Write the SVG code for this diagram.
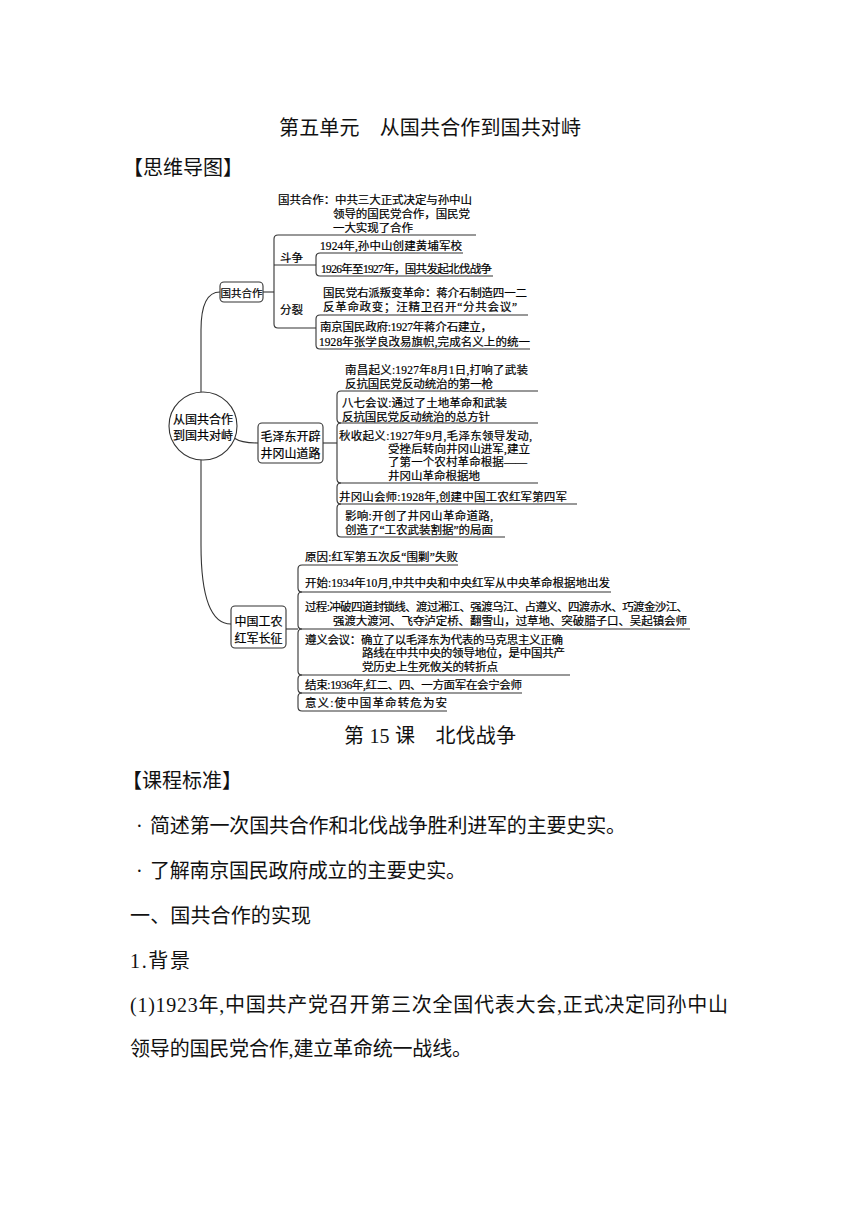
<svg xmlns="http://www.w3.org/2000/svg" width="860" height="1216" viewBox="0 0 860 1216">
<style>
.t{font-family:"Liberation Serif","Noto Sans CJK SC",serif;fill:#111;font-size:20px;dominant-baseline:central}
.m{font-family:"Liberation Serif","Noto Sans CJK SC",serif;font-size:11.5px;fill:#000;stroke:#000;stroke-width:0.2;dominant-baseline:central}
.bx{font-family:"Noto Sans CJK SC",sans-serif;font-size:12px;fill:#000;stroke:#000;stroke-width:0.2;dominant-baseline:central;text-anchor:middle}
.ln{fill:none;stroke:#333;stroke-width:1.1}
.box{fill:#fff;stroke:#333;stroke-width:1.1}
</style>
<rect width="860" height="1216" fill="#fff"/>

<g id="heading">
<text class="t" x="430" y="128" text-anchor="middle" textLength="302">第五单元　从国共合作到国共对峙</text>
<text class="t" x="123" y="168" textLength="120">【思维导图】</text>
</g>

<g id="connectors">
<path class="ln" d="M201 392 L201 330 C201 304 208 292 220 292"/>
<path class="ln" d="M234 438 C240 442 246 443 258 443"/>
<path class="ln" d="M201 460 L201 545 C201 600 212 624 231 624"/>
<path class="ln" d="M263 292 L274 292"/>
<path class="ln" d="M476 235 L278 235 Q274 235 274 239 L274 324 Q274 328 278 328 L316 328"/>
<path class="ln" d="M274 265 L316 265"/>
<path class="ln" d="M463 253 L320 253 Q316 253 316 257 L316 272 Q316 276 320 276 L493 276"/>
<path class="ln" d="M528 315 L320 315 Q316 315 316 319 L316 345 Q316 349 320 349 L530 349"/>
<path class="ln" d="M323 443 L337 443"/>
<path class="ln" d="M538 391 L341 391 Q337 391 337 395 L337 419 Q337 423 341 423 L538 423"/>
<path class="ln" d="M341 423 Q337 423 337 427 L337 479 Q337 483 341 483 L538 483"/>
<path class="ln" d="M341 483 Q337 483 337 487 L337 500 Q337 504 341 504 L577 504"/>
<path class="ln" d="M341 504 Q337 504 337 508 L337 533 Q337 537 341 537 L505 537"/>
<path class="ln" d="M286 629 L298 629"/>
<path class="ln" d="M458 565 L302 565 Q298 565 298 569 L298 588 Q298 592 302 592 L611 592"/>
<path class="ln" d="M302 592 Q298 592 298 596 L298 625 Q298 629 302 629 L690 629"/>
<path class="ln" d="M302 629 Q298 629 298 633 L298 671 Q298 675 302 675 L570 675"/>
<path class="ln" d="M302 675 Q298 675 298 679 L298 689 Q298 693 302 693 L522 693"/>
<path class="ln" d="M302 693 Q298 693 298 697 L298 707 Q298 711 302 711 L447 711"/>
</g>

<g id="root">
<circle class="box" cx="203" cy="426" r="34"/>
<text class="bx" x="203" y="418">从国共合作</text>
<text class="bx" x="203" y="434">到国共对峙</text>
</g>

<g id="node-guogong">
<rect class="box" x="220" y="282" width="43" height="20" rx="4"/>
<text class="bx" x="241.5" y="292" style="font-size:10.5px">国共合作</text>
</g>

<g id="node-guogong-hezuo">
<text class="m" x="278" y="200" textLength="194">国共合作：中共三大正式决定与孙中山</text>
<text class="m" x="333" y="214" textLength="137">领导的国民党合作，国民党</text>
<text class="m" x="333" y="228" textLength="80">一大实现了合作</text>
</g>

<g id="node-douzheng">
<text class="m" x="280" y="258">斗争</text>
<text class="m" x="320" y="246" textLength="142">1924年,孙中山创建黄埔军校</text>
<text class="m" x="321" y="269" textLength="171">1926年至1927年，国共发起北伐战争</text>
</g>

<g id="node-fenlie">
<text class="m" x="280" y="310">分裂</text>
<text class="m" x="323" y="293" textLength="204">国民党右派叛变革命：蒋介石制造四一二</text>
<text class="m" x="323" y="307" textLength="194">反革命政变；汪精卫召开“分共会议”</text>
<text class="m" x="320" y="327" textLength="172">南京国民政府:1927年蒋介石建立，</text>
<text class="m" x="319" y="342" textLength="211">1928年张学良改易旗帜,完成名义上的统一</text>
</g>

<g id="node-maozedong">
<rect class="box" x="258" y="423" width="65" height="40" rx="4"/>
<text class="bx" x="290.5" y="435">毛泽东开辟</text>
<text class="bx" x="290.5" y="452">井冈山道路</text>
</g>

<g id="node-jinggangshan-items">
<text class="m" x="345" y="370" textLength="183">南昌起义:1927年8月1日,打响了武装</text>
<text class="m" x="345" y="384" textLength="148">反抗国民党反动统治的第一枪</text>
<text class="m" x="342" y="403" textLength="165">八七会议:通过了土地革命和武装</text>
<text class="m" x="342" y="417" textLength="148">反抗国民党反动统治的总方针</text>
<text class="m" x="339" y="436" textLength="193">秋收起义:1927年9月,毛泽东领导发动,</text>
<text class="m" x="388" y="449" textLength="142">受挫后转向井冈山进军,建立</text>
<text class="m" x="388" y="462" textLength="139">了第一个农村革命根据——</text>
<text class="m" x="388" y="476" textLength="92">井冈山革命根据地</text>
<text class="m" x="339" y="497" textLength="228">井冈山会师:1928年,创建中国工农红军第四军</text>
<text class="m" x="345" y="516" textLength="148">影响:开创了井冈山革命道路,</text>
<text class="m" x="345" y="530" textLength="148">创造了“工农武装割据”的局面</text>
</g>

<g id="node-changzheng">
<rect class="box" x="231" y="606" width="55" height="42" rx="4"/>
<text class="bx" x="258.5" y="620">中国工农</text>
<text class="bx" x="258.5" y="637">红军长征</text>
</g>

<g id="node-changzheng-items">
<text class="m" x="305" y="557" textLength="153">原因:红军第五次反“围剿”失败</text>
<text class="m" x="305" y="583" textLength="305">开始:1934年10月,中共中央和中央红军从中央革命根据地出发</text>
<text class="m" x="305" y="607" textLength="383">过程:冲破四道封锁线、渡过湘江、强渡乌江、占遵义、四渡赤水、巧渡金沙江、</text>
<text class="m" x="333" y="621" textLength="354">强渡大渡河、飞夺泸定桥、翻雪山，过草地、突破腊子口、吴起镇会师</text>
<text class="m" x="305" y="640" textLength="258">遵义会议：确立了以毛泽东为代表的马克思主义正确</text>
<text class="m" x="362" y="653" textLength="203">路线在中共中央的领导地位，是中国共产</text>
<text class="m" x="362" y="667" textLength="136">党历史上生死攸关的转折点</text>
<text class="m" x="305" y="685" textLength="217">结束:1936年,红二、四、一方面军在会宁会师</text>
<text class="m" x="305" y="703" textLength="142">意义:使中国革命转危为安</text>
</g>

<g id="body-text">
<text class="t" x="344" y="736" textLength="172">第 15 课　北伐战争</text>
<text class="t" x="122" y="781" textLength="120">【课程标准】</text>
<text class="t" x="136" y="826">·</text>
<text class="t" x="150" y="826" textLength="476">简述第一次国共合作和北伐战争胜利进军的主要史实。</text>
<text class="t" x="136" y="871">·</text>
<text class="t" x="150" y="871" textLength="316">了解南京国民政府成立的主要史实。</text>
<text class="t" x="130" y="916" textLength="181">一、国共合作的实现</text>
<text class="t" x="130" y="961" textLength="60">1.背景</text>
<text class="t" x="130" y="1005" textLength="598">(1)1923年,中国共产党召开第三次全国代表大会,正式决定同孙中山</text>
<text class="t" x="130" y="1049" textLength="342">领导的国民党合作,建立革命统一战线。</text>
</g>
</svg>
